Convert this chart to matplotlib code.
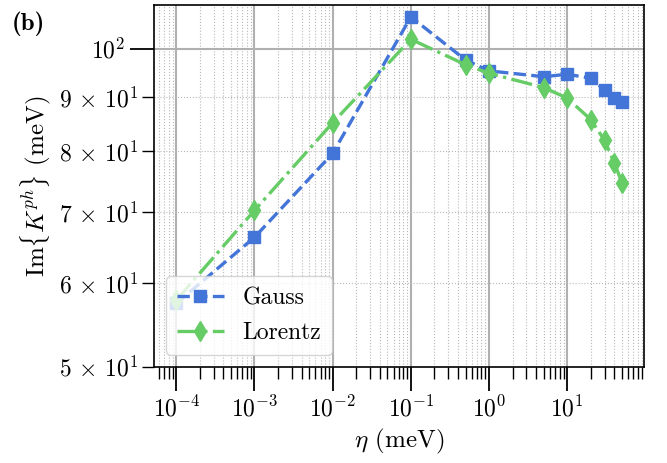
import numpy as np
import matplotlib
matplotlib.use("Agg")
from matplotlib import pyplot as plt
from matplotlib.ticker import FuncFormatter, LogLocator

# Data
eta = [1e-4, 1e-3, 1e-2, 1e-1, 0.5, 1, 5, 10, 20, 30, 40, 50]
gauss = [57.4, 66.3, 79.6, 107.2, 97.6, 95.3, 94.1, 94.6, 93.8, 91.4, 89.8, 89.0]
lorentz = [57.8, 70.3, 85.1, 102.1, 96.6, 94.8, 91.9, 89.8, 85.7, 81.9, 78.0, 74.7]

BLUE = '#4374d8'
GREEN = '#66cc66'

plt.rcParams['font.family'] = 'serif'
plt.rcParams['font.serif'] = ['cmr10']
plt.rcParams['mathtext.fontset'] = 'cm'
plt.rcParams['axes.formatter.use_mathtext'] = True
plt.rcParams['axes.unicode_minus'] = False

fig = plt.figure(figsize=(6.67, 4.63), dpi=100)
ax = fig.add_axes([0.231, 0.208, 0.7346, 0.781])

ax.plot(eta, gauss, '--s', color=BLUE, lw=2.4, ms=8.5, label='Gauss')
ax.plot(eta, lorentz, '-.d', color=GREEN, lw=2.4, ms=10, label='Lorentz')

ax.set_xscale('log')
ax.set_yscale('log')
ax.set_xlim(5.2e-5, 96)
ax.set_ylim(50, 110)


def yfmt(v, pos):
    if v < 50 or v > 110:
        return ''
    e = int(np.floor(np.log10(v) + 1e-9))
    m = int(round(v / 10 ** e))
    if m == 1:
        return r'$10^{%d}$' % e
    return r'$%d\,\times\,10^{%d}$' % (m, e)


ax.yaxis.set_major_locator(LogLocator(base=10))
ax.yaxis.set_minor_locator(LogLocator(base=10, subs=np.arange(2, 10)))
ax.yaxis.set_major_formatter(FuncFormatter(yfmt))
ax.yaxis.set_minor_formatter(FuncFormatter(yfmt))

ax.grid(True, which='major', color='#b0b0b0', lw=1.5, ls='-')
ax.grid(True, which='minor', color='#b8b8b8', lw=0.8, ls=':')
ax.set_axisbelow(True)

ax.tick_params(which='major', length=17.5, width=1.3, labelsize=17)
ax.tick_params(which='minor', length=8.5, width=1.0, labelsize=17)
for s in ax.spines.values():
    s.set_linewidth(1.2)

ax.set_xlabel(r'$\eta$ (meV)', fontsize=18)
ax.set_ylabel(r'$\mathrm{Im}\{K^{ph}\}$ (meV)', fontsize=18)

leg = ax.legend(loc='lower left', fontsize=17, fancybox=True, framealpha=0.8,
                handlelength=2.0, borderpad=0.45, labelspacing=0.55,
                handletextpad=0.8)

fig.text(0.018, 0.935, '(b)', fontsize=18, fontfamily='cmb10')

fig.savefig('out.png', dpi=100)
